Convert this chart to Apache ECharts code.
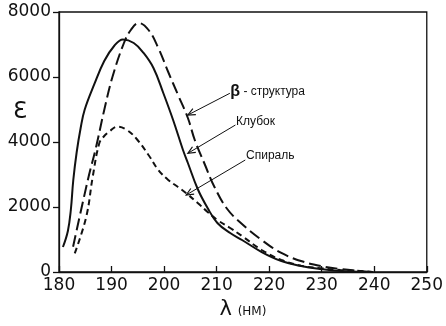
<!DOCTYPE html>
<html>
<head>
<meta charset="utf-8">
<script src="https://cdn.jsdelivr.net/npm/echarts@6/dist/echarts.min.js"></script>
<style>
  html, body { margin: 0; padding: 0; background: #fff; }
  #c { width: 446px; height: 326px; }
</style>
</head>
<body>
<div id="c"></div>
<script>
// Wavelength (nm) and molar absorption for the three conformations
const coilX   = [180.75, 181.69, 182.25, 182.72, 183.37, 184.12, 184.87, 186.74, 188.61, 190.49, 192.17, 194.23, 196.1, 197.98, 199.85, 201.72, 203.6, 204.53, 206.4, 208.28, 210.15, 212.58, 214.83, 218.58, 222.32, 226.07, 229.81, 233.56, 238.24];
const coilY   = [769, 1262, 1908, 2831, 3692, 4431, 4985, 5785, 6492, 6954, 7154, 7046, 6739, 6277, 5508, 4677, 3754, 3354, 2554, 1969, 1508, 1200, 985, 615, 338, 185, 92, 31, 0];

const helixX  = [183.0, 185.19, 186.42, 187.68, 188.61, 189.55, 191.1, 192.92, 194.79, 197.04, 198.91, 200.79, 202.66, 204.16, 206.4, 208.28, 210.15, 212.58, 214.83, 218.58, 222.32, 226.07, 229.81, 233.56, 237.3, 239.74];
const helixY  = [575, 1702, 2932, 3969, 4185, 4317, 4471, 4369, 4092, 3600, 3138, 2831, 2615, 2431, 2123, 1846, 1600, 1354, 1108, 677, 369, 194, 114, 62, 31, 0];

const betaX   = [182.68, 185.49, 187.06, 188.61, 190.17, 192.36, 193.67, 195.17, 197.04, 198.91, 200.79, 202.66, 204.53, 205.84, 207.72, 209.59, 212.02, 214.83, 218.58, 222.32, 226.07, 229.81, 233.56, 237.3, 239.74];
const betaY   = [778, 2831, 3846, 4985, 6000, 7046, 7446, 7662, 7446, 6892, 6154, 5446, 4739, 4062, 3323, 2615, 1938, 1477, 985, 585, 338, 185, 92, 31, 0];

// Axis ticks
const xTicks = [180, 190, 200, 210, 220, 230, 240, 250];
const yTicks = [0, 2000, 4000, 6000, 8000];

// Callout texts
const noteTexts = ['{b|β} - структура', 'Клубок', 'Спираль'];

const zip = (xs, ys) => xs.map((x, i) => [x, ys[i]]);

// Callout geometry in data space: text anchor, arrow start, arrow tip
const notes = [
  { text: noteTexts[0], at: [212.6, 5539], from: [212.52, 5499], tip: [204.53, 4831] },
  { text: noteTexts[1], at: [213.7, 4631], from: [213.58, 4523], tip: [204.53, 3652] },
  { text: noteTexts[2], at: [215.6, 3569], from: [215.45, 3446], tip: [204.21, 2369] }
];

const ink = '#111';
const tickFont = { fontFamily: 'DejaVu Sans', fontSize: 17, color: ink, formatter: v => String(v) };

const lineSeries = (name, data, dash) => ({
  name,
  type: 'line',
  data,
  smooth: 0.4,
  showSymbol: false,
  symbol: 'none',
  silent: true,
  lineStyle: { color: ink, width: 2, type: dash }
});

const option = {
  animation: false,
  backgroundColor: '#fff',
  grid: {
    left: 59, top: 12, right: 13, bottom: 54,
    show: true, borderColor: ink, borderWidth: 1.3, backgroundColor: 'transparent'
  },
  xAxis: {
    type: 'value',
    min: xTicks[0], max: xTicks[xTicks.length - 1], interval: 10,
    name: '{l|λ}{u| (НМ)}',
    nameLocation: 'middle',
    nameGap: 25,
    nameTextStyle: {
      rich: {
        l: { fontFamily: 'DejaVu Sans', fontSize: 21, color: ink },
        u: { fontFamily: 'DejaVu Sans', fontSize: 12, color: ink, padding: [4, 0, 0, 2] }
      }
    },
    axisLine: { show: true, lineStyle: { color: ink, width: 1.3 } },
    axisTick: { show: true, inside: true, length: 6, lineStyle: { color: ink, width: 1.3 } },
    axisLabel: Object.assign({ margin: 5 }, tickFont),
    splitLine: { show: false }
  },
  yAxis: {
    type: 'value',
    min: yTicks[0], max: yTicks[yTicks.length - 1], interval: 2000,
    axisLine: { show: true, lineStyle: { color: ink, width: 1.3 } },
    axisTick: { show: true, inside: false, length: 6, lineStyle: { color: ink, width: 1.3 } },
    axisLabel: Object.assign({ margin: 8 }, tickFont),
    splitLine: { show: false }
  },
  series: [
    lineSeries('β - структура', zip(betaX, betaY), [12, 5]),
    lineSeries('Клубок', zip(coilX, coilY), 'solid'),
    lineSeries('Спираль', zip(helixX, helixY), [6, 4])
  ]
};

const chart = echarts.init(document.getElementById('c'), null, { renderer: 'canvas' });
chart.setOption(option);

// Callout arrows with open heads, plus the ε axis title
function buildGraphics() {
  const els = [];
  const toPx = p => chart.convertToPixel({ gridIndex: 0 }, p);
  notes.forEach(n => {
    const a = toPx(n.from), t = toPx(n.tip), s = toPx(n.at);
    els.push({ type: 'line', silent: true,
      shape: { x1: a[0], y1: a[1], x2: t[0], y2: t[1] },
      style: { stroke: ink, lineWidth: 1 } });
    const dx = t[0] - a[0], dy = t[1] - a[1];
    const len = Math.hypot(dx, dy), ux = dx / len, uy = dy / len;
    const L = 8, ang = 0.42;
    const rot = (x, y, r) => [x * Math.cos(r) - y * Math.sin(r), x * Math.sin(r) + y * Math.cos(r)];
    const r1 = rot(-ux, -uy, ang), r2 = rot(-ux, -uy, -ang);
    els.push({ type: 'polyline', silent: true,
      shape: { points: [[t[0] + r1[0] * L, t[1] + r1[1] * L], [t[0], t[1]], [t[0] + r2[0] * L, t[1] + r2[1] * L]] },
      style: { stroke: ink, lineWidth: 1.2, fill: null } });
    els.push({ type: 'text', silent: true,
      style: {
        x: s[0], y: s[1], text: n.text,
        fill: ink, font: '12px "Liberation Sans"',
        textAlign: 'left', textVerticalAlign: 'middle',
        rich: { b: { font: 'bold 16px "Liberation Sans"', fill: ink } }
      } });
  });
  els.push({ type: 'text', silent: true,
    style: { x: 20, y: 112, text: 'Ɛ', fill: ink, font: '23px "DejaVu Sans"',
      textAlign: 'center', textVerticalAlign: 'middle' } });
  return els;
}
chart.setOption({ graphic: { elements: buildGraphics() } });
</script>
</body>
</html>
